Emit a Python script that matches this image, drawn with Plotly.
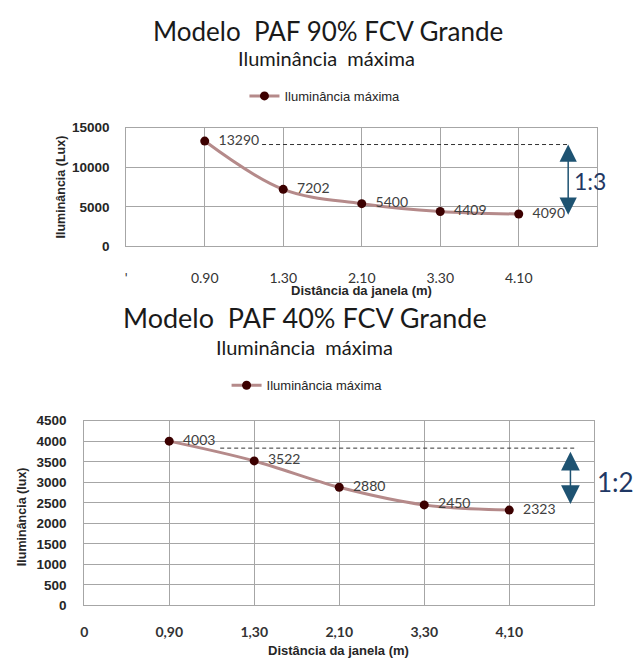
import plotly.graph_objects as go

# ---- data ----
series_name = "Iluminância máxima"
dist_top = ["0.90", "1.30", "2.10", "3.30", "4.10"]
lux_top = [13290, 7202, 5400, 4409, 4090]
dist_bot = ["0,90", "1,30", "2,10", "3,30", "4,10"]
lux_bot = [4003, 3522, 2880, 2450, 2323]

title_top = "Modelo  PAF 90% FCV Grande"
title_bot = "Modelo  PAF 40% FCV Grande"
subtitle = "Iluminância  máxima"
ytitle_top = "Iluminância (Lux)"
ytitle_bot = "Iluminância (lux)"
xtitle = "Distância da janela (m)"
ratio_top = "1:3"
ratio_bot = "1:2"

W, H = 633, 665
pos = list(range(1, len(dist_top) + 1))

LINE = "#b58a8a"
MARK = "#3c0000"
GRID = "#a6a6a6"
NARROW = "Liberation Sans Narrow, Arial Narrow, Liberation Sans, sans-serif"
CAL = "Lato, Open Sans, sans-serif"
ARROW = "#1e5372"
NAVY = "#1f3864"

fig = go.Figure()
fig.add_trace(go.Scatter(
    x=pos, y=lux_top, mode="lines+markers+text",
    text=["  " + str(v) for v in lux_top], textposition="middle right",
    textfont=dict(family=CAL, size=14, color="#404040"),
    line=dict(color=LINE, width=3, shape="spline"),
    marker=dict(color=MARK, size=9),
    name=series_name, xaxis="x", yaxis="y", legend="legend", cliponaxis=False))
fig.add_trace(go.Scatter(
    x=pos, y=lux_bot, mode="lines+markers+text",
    text=["  " + str(v) for v in lux_bot], textposition="middle right",
    textfont=dict(family=CAL, size=14, color="#404040"),
    line=dict(color=LINE, width=3, shape="spline"),
    marker=dict(color=MARK, size=9),
    name=series_name, xaxis="x2", yaxis="y2", legend="legend2", cliponaxis=False))

def px_x(p):
    return p / W

def px_y(p):
    return 1 - p / H

axis_common = dict(showgrid=True, gridcolor=GRID, gridwidth=1, showline=True,
                   mirror=True, linecolor=GRID, linewidth=1, zeroline=False,
                   ticks="", fixedrange=True)

layout = dict(
    width=W, height=H, margin=dict(l=0, r=0, t=0, b=0),
    paper_bgcolor="white", plot_bgcolor="white",
    xaxis=dict(domain=[px_x(123), px_x(597)], range=[0, 6], anchor="y",
               tickvals=[0] + pos, ticktext=["'"] + dist_top,
               tickfont=dict(family=CAL, size=14, color="#333333"),
               ticklabelstandoff=19, **axis_common),
    yaxis=dict(domain=[px_y(245), px_y(123.3)], range=[0, 15000], dtick=5000,
               tickformat="d", anchor="x",
               tickfont=dict(family=NARROW, size=13.5, color="#262626", weight="bold"),
               ticklabelstandoff=13, **axis_common),
    xaxis2=dict(domain=[px_x(80.7), px_x(594)], range=[0, 6], anchor="y2",
                tickvals=[0] + pos, ticktext=["0"] + dist_bot,
                tickfont=dict(family=CAL, size=14, color="#333333", weight="bold"),
                ticklabelstandoff=14, **axis_common),
    yaxis2=dict(domain=[px_y(612.3), px_y(423.3)], range=[0, 4500], dtick=500,
                tickformat="d", anchor="x2",
                tickfont=dict(family=NARROW, size=13.5, color="#262626", weight="bold"),
                ticklabelstandoff=14, **axis_common),
    legend=dict(x=px_x(323), y=px_y(91), xanchor="center", yanchor="middle",
                orientation="h", font=dict(family=NARROW, size=13, color="#262626"),
                bgcolor="rgba(0,0,0,0)", itemwidth=30),
    legend2=dict(x=px_x(305), y=px_y(387), xanchor="center", yanchor="middle",
                 orientation="h", font=dict(family=NARROW, size=13, color="#262626"),
                 bgcolor="rgba(0,0,0,0)", itemwidth=30),
    showlegend=True,
)
fig.update_layout(**layout)

ann = []
def text_ann(txt, x, y, size, family=CAL, color="#1a1a1a", angle=0, bold=False, xanchor="center"):
    ann.append(dict(text=("<b>%s</b>" % txt) if bold else txt, xref="paper", yref="paper",
                    x=px_x(x), y=px_y(y), xanchor=xanchor, yanchor="middle",
                    showarrow=False, textangle=angle,
                    font=dict(family=family, size=size, color=color)))

text_ann(title_top, 326, 25, 26)
text_ann(subtitle, 325, 52, 20)
text_ann(title_bot, 303, 318, 27)
text_ann(subtitle, 302, 348, 20)
text_ann(ytitle_top, 57, 184, 12.5, family=NARROW, color="#262626", angle=-90, bold=True)
text_ann(ytitle_bot, 18, 521, 12.5, family=NARROW, color="#262626", angle=-90, bold=True)
text_ann(xtitle, 360, 290, 13, family=NARROW, color="#262626", bold=True)
text_ann(xtitle, 337, 658, 13, family=NARROW, color="#262626", bold=True)

# ratio labels
text_ann(ratio_top, 572, 178, 23, color=NAVY, xanchor="left")
text_ann(ratio_bot, 595, 486, 26, color=NAVY, xanchor="left")

# double arrows
ann.append(dict(xref="x", yref="y", axref="x", ayref="y", x=5.63, y=12855, ax=5.63, ay=3820,
                showarrow=True, arrowhead=2, startarrowhead=2, arrowside="end+start",
                arrowsize=2.3, startarrowsize=2.3, arrowwidth=1.5, arrowcolor=ARROW, text=""))
ann.append(dict(xref="x2", yref="y2", axref="x2", ayref="y2", x=5.72, y=3745, ax=5.72, ay=2436,
                showarrow=True, arrowhead=2, startarrowhead=2, arrowside="end+start",
                arrowsize=2.5, startarrowsize=2.5, arrowwidth=1.5, arrowcolor=ARROW, text=""))
fig.update_layout(annotations=ann)

# dashed reference lines
fig.add_shape(type="line", xref="x", yref="y", x0=1.73, x1=5.63, y0=12855, y1=12855,
              line=dict(color="#333333", width=1, dash="4px,3px"))
fig.add_shape(type="line", xref="x2", yref="y2", x0=1.6, x1=5.8, y0=3833, y1=3833,
              line=dict(color="#333333", width=1, dash="4px,3px"))

fig.write_html("out.html")
